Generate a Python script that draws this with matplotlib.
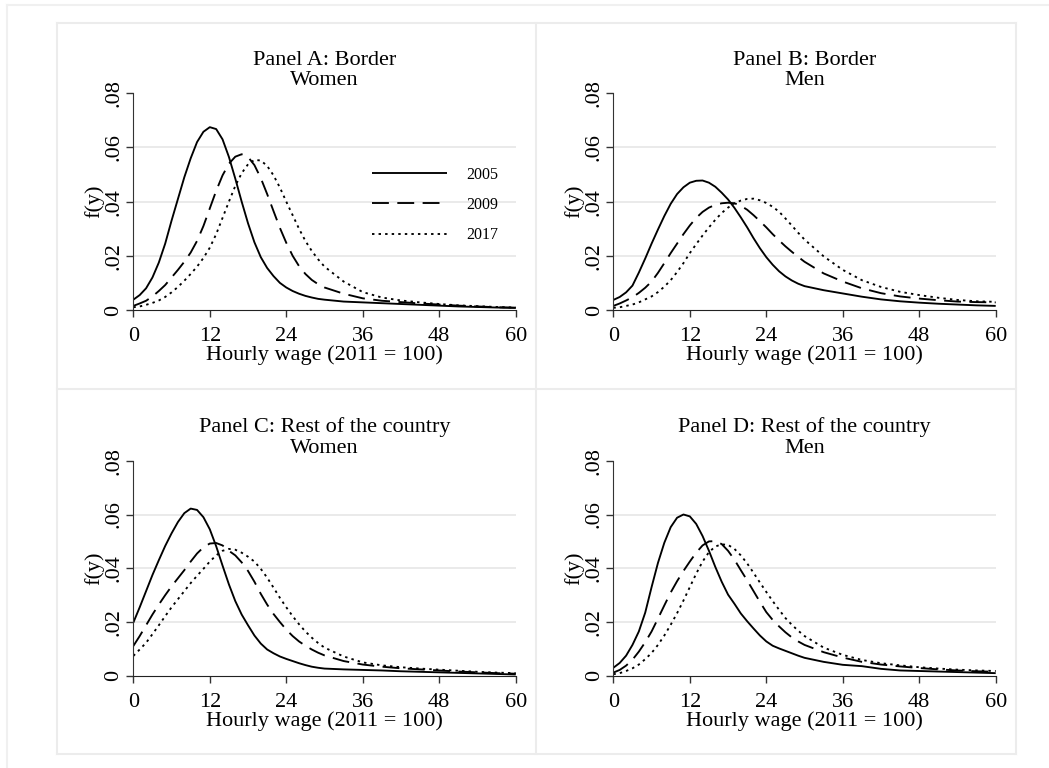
import numpy as np
import matplotlib
matplotlib.use('Agg')
import matplotlib.pyplot as plt
from matplotlib.lines import Line2D
from matplotlib.ticker import FuncFormatter

plt.rcParams['font.family'] = 'serif'
plt.rcParams['font.serif'] = ['Liberation Serif', 'DejaVu Serif']
plt.rcParams['font.size'] = 16

"""___________________"""
"Data: estimated kernel densities of the hourly wage"
wage = list(range(0, 31)) + [33, 36, 39, 42, 45, 48, 51, 54, 57, 60]

years = ['2005', '2009', '2017']

# Panel A: Border, women
border_women_2005 = [.0038, .0055, .0080, .0120, .0175, .0245, .0330, .0410, .0490, .0560,
                     .0620, .0658, .0675, .0668, .0630, .0565, .0485, .0400, .0320, .0250,
                     .0195, .0155, .0125, .0100, .0083, .0070, .0060, .0052, .0046, .0041,
                     .0038, .0031, .0028, .0025, .0022, .0019, .0016, .0013, .0011, .0009, .0008]
border_women_2009 = [.0015, .0024, .0034, .0050, .0070, .0092, .0120, .0148, .0178, .0212,
                     .0255, .0310, .0375, .0440, .0497, .0540, .0566, .0575, .0565, .0535,
                     .0487, .0428, .0365, .0303, .0248, .0200, .0162, .0133, .0111, .0095,
                     .0083, .0060, .0043, .0034, .0029, .0024, .0020, .0016, .0013, .0010, .0008]
border_women_2017 = [.0010, .0013, .0019, .0026, .0035, .0048, .0065, .0085, .0108, .0133,
                     .0160, .0192, .0230, .0280, .0340, .0400, .0458, .0505, .0538, .0554,
                     .0552, .0532, .0497, .0452, .0400, .0350, .0300, .0255, .0218, .0187,
                     .0160, .0105, .0066, .0046, .0035, .0028, .0022, .0017, .0014, .0011, .0009]

# Panel B: Border, men
border_men_2005 = [.0037, .0048, .0065, .0090, .0138, .0190, .0245, .0297, .0347, .0392,
                   .0428, .0453, .0470, .0477, .0478, .0470, .0455, .0433, .0408, .0377,
                   .0342, .0305, .0265, .0228, .0195, .0167, .0143, .0124, .0109, .0097,
                   .0088, .0073, .0061, .0049, .0039, .0032, .0027, .0023, .0020, .0017, .0015]
border_men_2009 = [.0015, .0024, .0035, .0047, .0063, .0082, .0105, .0137, .0173, .0210,
                   .0245, .0280, .0312, .0340, .0362, .0378, .0388, .0394, .0396, .0394,
                   .0385, .0370, .0350, .0328, .0305, .0280, .0257, .0235, .0215, .0196,
                   .0178, .0135, .0105, .0080, .0062, .0050, .0042, .0036, .0031, .0029, .0028]
border_men_2017 = [.0008, .0010, .0015, .0020, .0028, .0039, .0050, .0066, .0086, .0110,
                   .0140, .0173, .0210, .0243, .0275, .0305, .0333, .0358, .0378, .0394,
                   .0404, .0410, .0411, .0405, .0395, .0381, .0363, .0338, .0312, .0285,
                   .0260, .0198, .0148, .0110, .0085, .0067, .0055, .0045, .0037, .0032, .0030]

# Panel C: Rest of the country, women
rest_women_2005 = [.0198, .0255, .0315, .0375, .0430, .0483, .0530, .0572, .0605, .0622,
                   .0617, .0590, .0545, .0482, .0410, .0340, .0278, .0228, .0188, .0150,
                   .0120, .0098, .0084, .0072, .0063, .0055, .0047, .0040, .0034, .0030,
                   .0027, .0024, .0022, .0020, .0017, .0015, .0013, .0011, .0009, .0007, .0005]
rest_women_2009 = [.0111, .0148, .0188, .0228, .0265, .0300, .0333, .0363, .0393, .0425,
                   .0455, .0478, .0492, .0494, .0485, .0465, .0448, .0422, .0390, .0350,
                   .0305, .0265, .0230, .0200, .0172, .0148, .0128, .0112, .0098, .0086,
                   .0076, .0055, .0042, .0034, .0028, .0024, .0020, .0016, .0013, .0010, .0008]
rest_women_2017 = [.0074, .0098, .0123, .0155, .0188, .0222, .0255, .0285, .0315, .0345,
                   .0372, .0398, .0425, .0448, .0465, .0472, .0469, .0458, .0443, .0425,
                   .0398, .0365, .0328, .0290, .0255, .0222, .0192, .0165, .0142, .0122,
                   .0105, .0072, .0050, .0039, .0032, .0027, .0023, .0019, .0015, .0012, .0010]

# Panel D: Rest of the country, men
rest_men_2005 = [.0030, .0048, .0075, .0115, .0165, .0235, .0330, .0420, .0495, .0553,
                 .0588, .0600, .0593, .0565, .0520, .0465, .0405, .0350, .0302, .0268,
                 .0232, .0203, .0176, .0150, .0128, .0112, .0102, .0093, .0084, .0075,
                 .0067, .0052, .0041, .0036, .0026, .0020, .0018, .0016, .0014, .0012, .0010]
rest_men_2009 = [.0012, .0022, .0038, .0060, .0090, .0125, .0165, .0213, .0262, .0310,
                 .0352, .0390, .0425, .0458, .0485, .0500, .0501, .0490, .0465, .0432,
                 .0393, .0355, .0315, .0275, .0237, .0208, .0184, .0162, .0143, .0128,
                 .0115, .0088, .0068, .0052, .0042, .0035, .0029, .0024, .0020, .0017, .0015]
rest_men_2017 = [.0006, .0010, .0018, .0028, .0042, .0062, .0085, .0115, .0150, .0190,
                 .0233, .0280, .0330, .0380, .0425, .0460, .0481, .0489, .0487, .0472,
                 .0448, .0418, .0383, .0347, .0312, .0278, .0246, .0215, .0190, .0168,
                 .0148, .0105, .0078, .0059, .0047, .0039, .0032, .0027, .0023, .0020, .0018]

panel_titles = ['Panel A: Border\nWomen', 'Panel B: Border\nMen',
                'Panel C: Rest of the country\nWomen', 'Panel D: Rest of the country\nMen']
x_ticks = [0, 12, 24, 36, 48, 60]
y_ticks = [0, .02, .04, .06, .08]
"""___________________"""

panels = [
    [border_women_2005, border_women_2009, border_women_2017],
    [border_men_2005, border_men_2009, border_men_2017],
    [rest_women_2005, rest_women_2009, rest_women_2017],
    [rest_men_2005, rest_men_2009, rest_men_2017],
]

styles = ['-', (0, (9, 4.5)), (0, (1.3, 2.2))]
linewidth = 1.35

fig = plt.figure(figsize=(10.49, 7.68), dpi=100)
fig.patch.set_facecolor('white')

# axes positions in figure fractions (left, bottom, width, height)
positions = [
    [0.1271, 0.5964, 0.3645, 0.2821],
    [0.5847, 0.5964, 0.3645, 0.2821],
    [0.1271, 0.1200, 0.3645, 0.2801],
    [0.5847, 0.1200, 0.3645, 0.2801],
]

ytick_fmt = FuncFormatter(lambda v, pos: '0' if v == 0 else ('%.2f' % v).lstrip('0'))

for i in range(4):
    ax = fig.add_axes(positions[i])
    for j in range(3):
        ax.plot(wage, panels[i][j], color='black', lw=linewidth, linestyle=styles[j],
                label=years[j], solid_capstyle='butt', dash_capstyle='butt',
                solid_joinstyle='round')

    ax.set_xlim(0, 60)
    ax.set_ylim(0, 0.08)
    ax.set_xticks(x_ticks)
    ax.set_yticks(y_ticks)
    ax.yaxis.set_major_formatter(ytick_fmt)
    for lab in ax.get_yticklabels():
        lab.set_rotation(90)
        lab.set_va('center')

    for g in y_ticks[1:-1]:
        ax.axhline(g, color='#e6e6e6', lw=1.2, zorder=0)

    ax.spines['top'].set_visible(False)
    ax.spines['right'].set_visible(False)
    ax.spines['left'].set_color('#333333')
    ax.spines['bottom'].set_color('#222222')
    ax.tick_params(axis='both', direction='out', length=5, width=1, colors='#333333',
                   labelcolor='black', labelsize=16)
    ax.tick_params(axis='x', pad=7.5)
    ax.tick_params(axis='y', pad=2)

    ax.set_xlabel('Hourly wage (2011 = 100)', fontsize=16, labelpad=-1)
    ax.set_ylabel('f(y)', fontsize=16, labelpad=0)
    ax.set_title(panel_titles[i], fontsize=16, linespacing=1.1, pad=5.8)

    if i == 0:
        ax.legend(loc='upper left', bbox_to_anchor=(0.624, 0.662), frameon=False,
                  fontsize=11.5, handlelength=4.7, handletextpad=1.2, labelspacing=0.9,
                  borderpad=0, borderaxespad=0)

"panel frames drawn the way Stata does it"
W, H = 1049.0, 768.0
frame_col = '#ececec'
def fline(x0, y0, x1, y1, col=frame_col, lw=1.5):
    fig.add_artist(Line2D([x0 / W, x1 / W], [1 - y0 / H, 1 - y1 / H],
                          color=col, lw=lw, transform=fig.transFigure))

# outer frame (only top and left visible)
fline(7, 5, W, 5, col='#f0f0f0')
fline(7, 5, 7, H, col='#f0f0f0')
# inner box
fline(57, 23, 1015.5, 23)
fline(57, 753.5, 1015.5, 753.5)
fline(57, 23, 57, 753.5)
fline(1015.5, 23, 1015.5, 753.5)
# separators
fline(536, 23, 536, 753.5)
fline(57, 389, 1015.5, 389)

fig.savefig('out.png', dpi=100, facecolor='white')
